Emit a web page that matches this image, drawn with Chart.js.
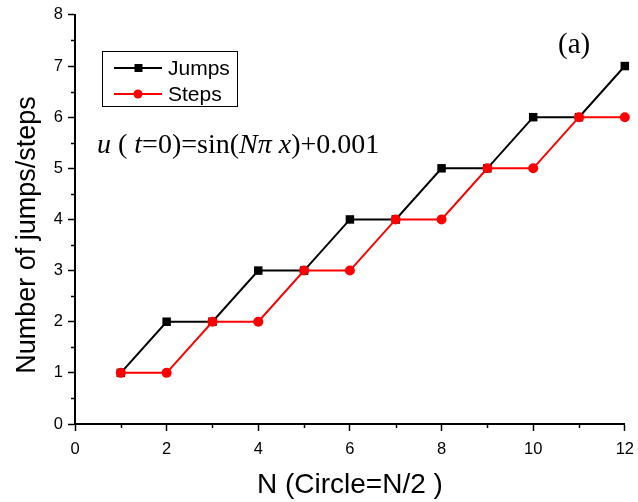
<!DOCTYPE html>
<html>
<head>
<meta charset="utf-8">
<script src="https://cdn.jsdelivr.net/npm/chart.js@4.4.0/dist/chart.umd.min.js"></script>
<style>
html,body{margin:0;padding:0;background:#fff;}
#wrap{width:638px;height:502px;position:relative;}
</style>
</head>
<body>
<div id="wrap"><canvas id="c" width="638" height="502"></canvas></div>
<script>
const nValues = [1, 2, 3, 4, 5, 6, 7, 8, 9, 10, 11, 12];
const jumps = [1, 2, 2, 3, 3, 4, 4, 5, 5, 6, 6, 7];
const steps = [1, 1, 2, 2, 3, 3, 4, 4, 5, 5, 6, 6];
const xMinorTicks = [1, 3, 5, 7, 9, 11];
const yMinorTicks = [0.5, 1.5, 2.5, 3.5, 4.5, 5.5, 6.5, 7.5];
const seriesNames = ['Jumps', 'Steps'];
const yTitle = 'Number of jumps/steps';
const xTitle = 'N (Circle=N/2 )';

const SANS = "'Liberation Sans', Arial, sans-serif";
const SERIF = "'Liberation Serif', 'Times New Roman', serif";

const minorTicksPlugin = {
  id: 'minorTicks',
  afterDraw(chart) {
    const ctx = chart.ctx;
    const xs = chart.scales.x, ys = chart.scales.y;
    ctx.save();
    ctx.strokeStyle = '#000';
    ctx.lineWidth = 1.5;
    ctx.beginPath();
    xMinorTicks.forEach(v => {
      const px = Math.round(xs.getPixelForValue(v)) + 0.5;
      ctx.moveTo(px, ys.bottom);
      ctx.lineTo(px, ys.bottom + 4);
    });
    yMinorTicks.forEach(v => {
      const py = Math.round(ys.getPixelForValue(v)) + 0.5;
      ctx.moveTo(xs.left, py);
      ctx.lineTo(xs.left - 4, py);
    });
    ctx.stroke();
    ctx.restore();
  }
};

const annotationPlugin = {
  id: 'annot',
  afterDraw(chart) {
    const ctx = chart.ctx;
    ctx.save();
    // Y axis title
    ctx.save();
    ctx.translate(35, 235);
    ctx.rotate(-Math.PI / 2);
    ctx.font = '27px ' + SANS;
    ctx.fillStyle = '#000';
    ctx.textAlign = 'center';
    ctx.textBaseline = 'alphabetic';
    ctx.fillText(yTitle, 0, 0);
    ctx.restore();
    // Legend box
    ctx.strokeStyle = '#000';
    ctx.lineWidth = 1;
    ctx.strokeRect(102.5, 51.5, 135, 55);
    const rows = [68, 94];
    chart.data.datasets.slice().sort((a, b) => a.legendIndex - b.legendIndex).forEach((ds, i) => {
      const y = rows[i];
      ctx.strokeStyle = ds.borderColor;
      ctx.lineWidth = 2;
      ctx.beginPath();
      ctx.moveTo(114, y);
      ctx.lineTo(162, y);
      ctx.stroke();
      ctx.fillStyle = ds.pointBackgroundColor;
      if (ds.pointStyle === 'rect') {
        ctx.fillRect(134.5, y - 4, 8, 8);
      } else {
        ctx.beginPath();
        ctx.arc(138, y, 4.5, 0, Math.PI * 2);
        ctx.fill();
      }
      ctx.fillStyle = '#000';
      ctx.font = '21px ' + SANS;
      ctx.textBaseline = 'middle';
      ctx.textAlign = 'left';
      ctx.fillText(ds.label, 168, y + 1);
    });
    // Formula
    const segs = [
      {t: 'u', i: true}, {t: ' ( ', i: false}, {t: 't', i: true},
      {t: '=0)=sin(', i: false}, {t: 'N\u03C0 x', i: true}, {t: ')+0.001', i: false}
    ];
    let x = 97;
    ctx.textBaseline = 'alphabetic';
    ctx.fillStyle = '#000';
    segs.forEach(s => {
      ctx.font = (s.i ? 'italic ' : '') + '28px ' + SERIF;
      ctx.fillText(s.t, x, 153);
      x += ctx.measureText(s.t).width;
    });
    // (a)
    ctx.font = '29px ' + SERIF;
    ctx.fillText('(a)', 558, 53);
    ctx.restore();
  }
};

new Chart(document.getElementById('c'), {
  type: 'line',
  data: {
    datasets: [
      {
        label: seriesNames[0],
        legendIndex: 0,
        data: nValues.map((n, i) => ({x: n, y: jumps[i]})),
        borderColor: '#000',
        backgroundColor: '#000',
        pointBackgroundColor: '#000',
        pointBorderColor: '#000',
        pointStyle: 'rect',
        pointRadius: 6,
        pointBorderWidth: 0,
        borderWidth: 2,
        tension: 0,
        clip: false,
        order: 1
      },
      {
        label: seriesNames[1],
        legendIndex: 1,
        data: nValues.map((n, i) => ({x: n, y: steps[i]})),
        borderColor: '#ff0000',
        backgroundColor: '#ff0000',
        pointBackgroundColor: '#ff0000',
        pointBorderColor: '#ff0000',
        pointStyle: 'circle',
        pointRadius: 5,
        pointBorderWidth: 0,
        borderWidth: 2,
        tension: 0,
        clip: false,
        order: 0
      }
    ]
  },
  options: {
    responsive: false,
    animation: false,
    devicePixelRatio: 1,
    layout: {padding: {top: 14, right: 12, left: 0, bottom: 0}},
    plugins: {legend: {display: false}, tooltip: {enabled: false}},
    scales: {
      x: {
        type: 'linear',
        min: 0, max: 12,
        afterFit(s) { s.height = 78; },
        ticks: {stepSize: 2, color: '#000', font: {family: SANS, size: 16.5, lineHeight: 1.7}, padding: 4, maxRotation: 0},
        grid: {drawOnChartArea: false, drawTicks: true, tickLength: 7, tickWidth: 1.5, tickColor: '#000'},
        border: {display: true, color: '#000', width: 2},
        title: {display: true, text: xTitle, color: '#000', font: {family: SANS, size: 28}, padding: {top: 5, bottom: 0}}
      },
      y: {
        type: 'linear',
        min: 0, max: 8,
        afterFit(s) { s.width = 75; },
        ticks: {stepSize: 1, color: '#000', font: {family: SANS, size: 16.5}, padding: 5},
        grid: {drawOnChartArea: false, drawTicks: true, tickLength: 7, tickWidth: 1.5, tickColor: '#000'},
        border: {display: true, color: '#000', width: 2},
        title: {display: false}
      }
    }
  },
  plugins: [minorTicksPlugin, annotationPlugin]
});
</script>
</body>
</html>
